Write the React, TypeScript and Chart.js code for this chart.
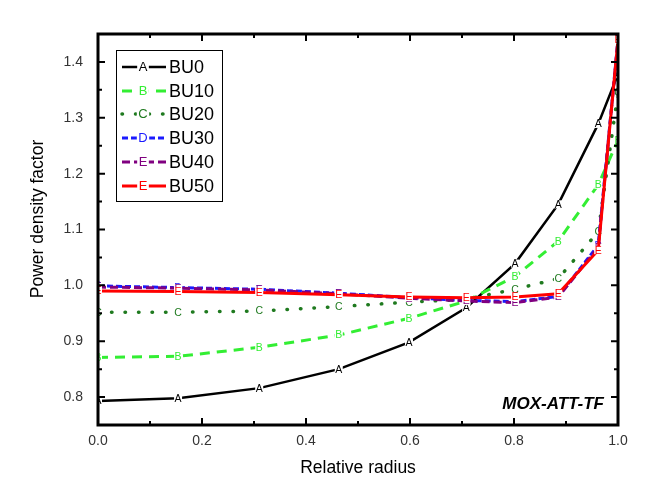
import React, { useEffect, useRef } from 'react';
import { Chart, registerables } from 'chart.js';

Chart.register(...registerables);

const FONT = '"Liberation Sans", Arial, sans-serif';

// Relative radius positions of the data points
const radius = [0, 0.154, 0.31, 0.463, 0.598, 0.708, 0.802, 0.885, 0.962, 1.0];

// Power density factor per burnup
const bu0 = [0.793, 0.798, 0.816, 0.85, 0.898, 0.96, 1.039, 1.145, 1.289, 1.378];
const bu10 = [0.871, 0.873, 0.889, 0.911, 0.941, 0.972, 1.016, 1.079, 1.18, 1.26];
const bu20 = [0.952, 0.952, 0.954, 0.962, 0.97, 0.975, 0.993, 1.012, 1.096, 1.345];
const bu30 = [0.999, 0.996, 0.993, 0.986, 0.978, 0.973, 0.971, 0.98, 1.072, 1.44];
const bu40 = [0.997, 0.995, 0.992, 0.985, 0.977, 0.972, 0.969, 0.979, 1.068, 1.44];
const bu50 = [0.99, 0.989, 0.987, 0.983, 0.979, 0.978, 0.979, 0.985, 1.063, 1.44];

const seriesNames = ['BU0', 'BU10', 'BU20', 'BU30', 'BU40', 'BU50'];
const seriesValues = [bu0, bu10, bu20, bu30, bu40, bu50];
const markerLetters = ['A', 'B', 'C', 'D', 'E', 'E'];

const xMajorTicks = [0, 0.2, 0.4, 0.6, 0.8, 1.0];
const xMinorTicks = [0.1, 0.3, 0.5, 0.7, 0.9];
const yMajorTicks = [0.8, 0.9, 1.0, 1.1, 1.2, 1.3, 1.4];
const yMinorTicks = [0.75, 0.85, 0.95, 1.05, 1.15, 1.25, 1.35, 1.45];

const xTitle = 'Relative radius';
const yTitle = 'Power density factor';
const annotationText = 'MOX-ATT-TF';

const styles = [
  { color: '#000000', width: 2.5, dash: [] as number[], cap: 'butt' },
  { color: '#33ee33', width: 3, dash: [10, 7], cap: 'butt' },
  { color: '#1f7a1f', width: 3.5, dash: [0.5, 13], cap: 'round' },
  { color: '#1a1aff', width: 3, dash: [6, 3], cap: 'butt' },
  { color: '#800080', width: 3, dash: [8, 4], cap: 'butt' },
  { color: '#ff0000', width: 3, dash: [] as number[], cap: 'butt' },
];

const decorPlugin = {
  id: 'decor',
  afterDatasetDraw(chart: any, args: any) {
    const i = args.index;
    const meta = args.meta;
    const ctx = chart.ctx;
    const a = chart.chartArea;
    ctx.save();
    ctx.beginPath();
    ctx.rect(a.left, a.top, a.right - a.left, a.bottom - a.top);
    ctx.clip();
    ctx.font = `10.5px ${FONT}`;
    ctx.textAlign = 'center';
    ctx.textBaseline = 'middle';
    const letter = markerLetters[i];
    const w = ctx.measureText(letter).width;
    for (const pt of meta.data) {
      ctx.fillStyle = '#ffffff';
      ctx.fillRect(pt.x - w / 2 - 0.5, pt.y - 4, w + 1, 8);
      ctx.fillStyle = styles[i].color;
      ctx.fillText(letter, pt.x, pt.y + 0.5);
    }
    ctx.restore();
  },
  afterDraw(chart: any) {
    const ctx = chart.ctx;
    const a = chart.chartArea;
    const xs = chart.scales.x;
    const ys = chart.scales.y;
    ctx.save();
    // frame
    ctx.strokeStyle = '#000';
    ctx.lineWidth = 3;
    ctx.setLineDash([]);
    ctx.strokeRect(a.left, a.top, a.right - a.left, a.bottom - a.top);
    // ticks (inward on all sides)
    ctx.lineWidth = 2;
    const xt = (vals: number[], len: number) => {
      for (const v of vals) {
        const px = xs.getPixelForValue(v);
        ctx.beginPath();
        ctx.moveTo(px, a.bottom);
        ctx.lineTo(px, a.bottom - len);
        ctx.moveTo(px, a.top);
        ctx.lineTo(px, a.top + len);
        ctx.stroke();
      }
    };
    const yt = (vals: number[], len: number) => {
      for (const v of vals) {
        const py = ys.getPixelForValue(v);
        ctx.beginPath();
        ctx.moveTo(a.left, py);
        ctx.lineTo(a.left + len, py);
        ctx.moveTo(a.right, py);
        ctx.lineTo(a.right - len, py);
        ctx.stroke();
      }
    };
    xt(xMajorTicks, 7);
    xt(xMinorTicks, 4);
    yt(yMajorTicks, 7);
    yt(yMinorTicks, 4);

    // axis titles
    ctx.fillStyle = '#000';
    ctx.font = `17.5px ${FONT}`;
    ctx.textAlign = 'center';
    ctx.textBaseline = 'middle';
    ctx.fillText(xTitle, (a.left + a.right) / 2, 468);
    ctx.save();
    ctx.translate(38, 219);
    ctx.rotate(-Math.PI / 2);
    ctx.fillText(yTitle, 0, 0);
    ctx.restore();

    // annotation
    ctx.font = `italic bold 17px ${FONT}`;
    ctx.textAlign = 'right';
    ctx.fillText(annotationText, a.right - 14, 404);

    // legend
    const lx = 116, ly = 50, lw = 106, lh = 151;
    ctx.fillStyle = '#fff';
    ctx.fillRect(lx, ly, lw, lh);
    ctx.strokeStyle = '#000';
    ctx.lineWidth = 1;
    ctx.strokeRect(lx + 0.5, ly + 0.5, lw, lh);
    const rowY = [67, 91, 114, 138, 162, 186];
    for (let i = 0; i < seriesNames.length; i++) {
      const s = styles[i];
      const y = rowY[i];
      ctx.strokeStyle = s.color;
      ctx.lineWidth = s.width;
      ctx.lineCap = s.cap;
      ctx.setLineDash(s.dash);
      ctx.beginPath();
      ctx.moveTo(122, y);
      ctx.lineTo(166, y);
      ctx.stroke();
      ctx.setLineDash([]);
      ctx.lineCap = 'butt';
      ctx.font = `13px ${FONT}`;
      ctx.textAlign = 'center';
      const w = ctx.measureText(markerLetters[i]).width;
      ctx.fillStyle = '#fff';
      ctx.fillRect(143 - w / 2 - 1.5, y - 7, w + 3, 14);
      ctx.fillStyle = s.color;
      ctx.fillText(markerLetters[i], 143, y + 0.5);
      ctx.fillStyle = '#000';
      ctx.font = `18px ${FONT}`;
      ctx.textAlign = 'left';
      ctx.fillText(seriesNames[i], 169, y + 1);
    }
    ctx.restore();
  },
};

export default function App() {
  const ref = useRef<HTMLCanvasElement>(null);
  useEffect(() => {
    if (!ref.current) return;
    const datasets = seriesValues.map((vals, i) => ({
      label: seriesNames[i],
      data: radius.map((r, j) => ({ x: r, y: vals[j] })),
      borderColor: styles[i].color,
      backgroundColor: styles[i].color,
      borderWidth: styles[i].width,
      borderDash: styles[i].dash,
      borderCapStyle: styles[i].cap as any,
      pointRadius: 0,
      fill: false,
      tension: 0,
      order: 5 - i,
    }));
    const chart = new Chart(ref.current, {
      type: 'line',
      data: { datasets },
      options: {
        animation: false,
        responsive: false,
        layout: { padding: { top: 34, right: 31, left: 0, bottom: 0 } },
        plugins: { legend: { display: false }, tooltip: { enabled: false } },
        scales: {
          x: {
            type: 'linear',
            min: 0,
            max: 1,
            grid: { display: false },
            border: { display: false },
            afterBuildTicks: (s: any) => {
              s.ticks = xMajorTicks.map((v) => ({ value: v }));
            },
            afterFit: (s: any) => {
              s.height = 75;
            },
            ticks: {
              autoSkip: false,
              maxRotation: 0,
              padding: 0,
              color: '#333',
              font: { size: 14, family: FONT },
              callback: (v: any) => Number(v).toFixed(1),
            },
          },
          y: {
            type: 'linear',
            min: 0.75,
            max: 1.45,
            grid: { display: false },
            border: { display: false },
            afterBuildTicks: (s: any) => {
              s.ticks = yMajorTicks.map((v) => ({ value: v }));
            },
            afterFit: (s: any) => {
              s.width = 98;
            },
            ticks: {
              autoSkip: false,
              padding: 7,
              color: '#333',
              font: { size: 14, family: FONT },
              callback: (v: any) => Number(v).toFixed(1),
            },
          },
        },
      },
      plugins: [decorPlugin],
    });
    return () => chart.destroy();
  }, []);
  return (
    <div style={{ position: 'absolute', left: 0, top: 0, width: 649, height: 500, background: '#fff' }}>
      <canvas ref={ref} width={649} height={500} style={{ display: 'block' }} />
    </div>
  );
}
